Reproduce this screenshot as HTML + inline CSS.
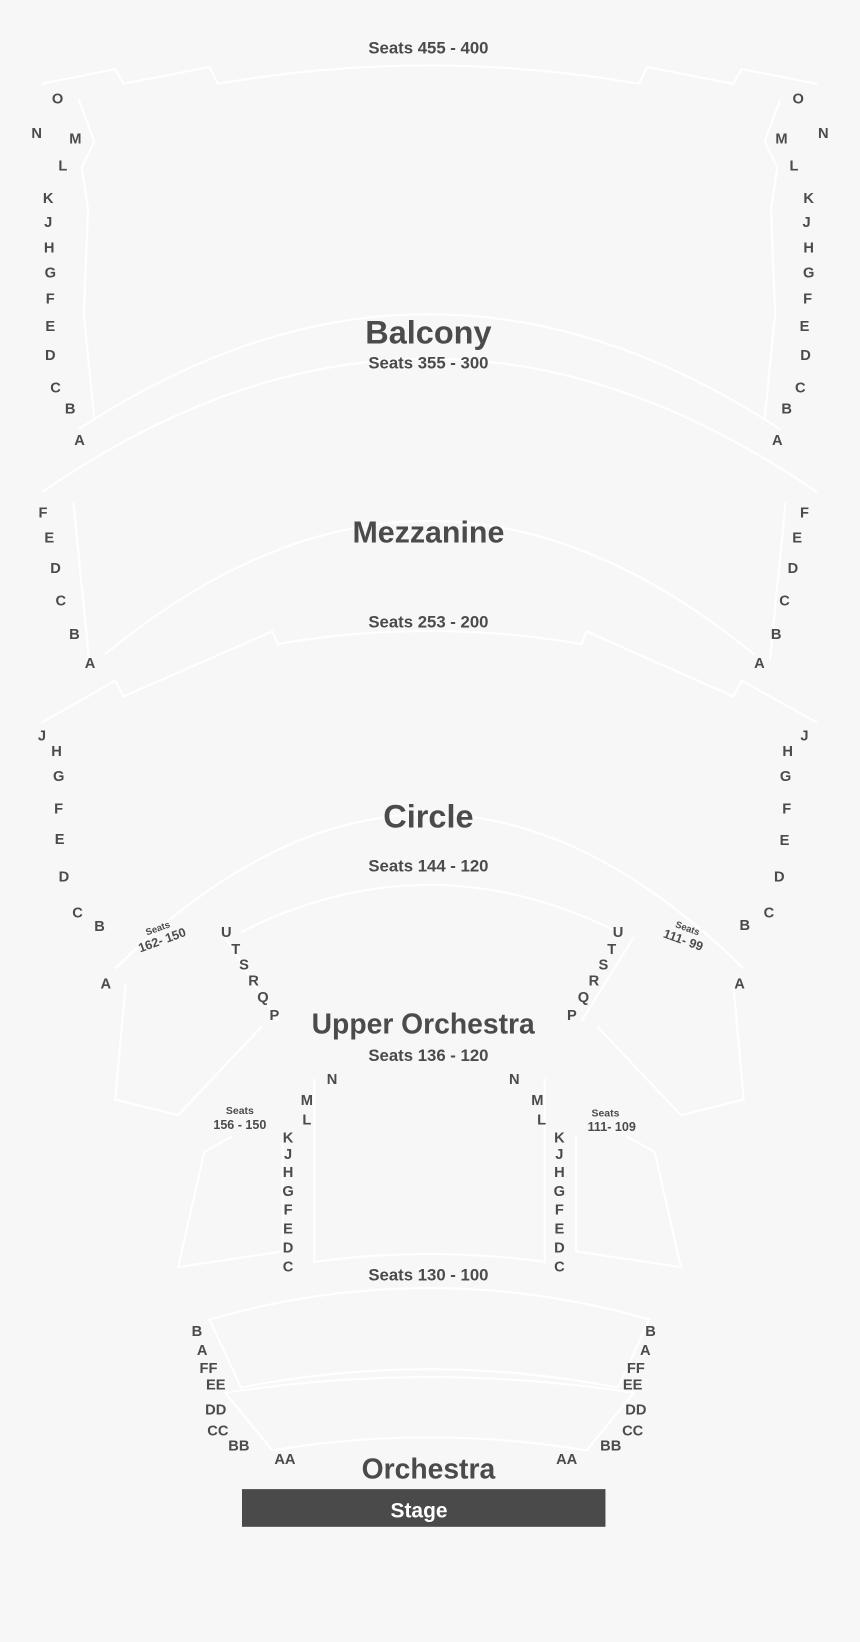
<!DOCTYPE html>
<html><head><meta charset="utf-8"><style>
html,body{margin:0;padding:0;background:#f7f7f7;}
svg{display:block;}
text{font-family:"Liberation Sans",Arial,sans-serif;font-weight:bold;fill:#4b4b4b;text-anchor:middle;}
.r{font-size:14px;}
.s{font-size:16px;}
.t{font-size:10px;}
</style></head><body>
<svg width="860" height="1642" viewBox="0 0 821 1568" preserveAspectRatio="none">
<rect width="821" height="1568" fill="#f7f7f7"/>
<g fill="none" stroke="#ffffff" stroke-width="2">
<!-- balcony -->
<path d="M40,80 L110,66 L118,80 L200,64 L208,80 Q409,45 610,80 L618,64 L700,80 L708,66 L780,80"/>
<path d="M75,410 Q409,190 745,410"/>
<path d="M40,470 Q409,215 780,470"/>
<path d="M75,95 L90,135 L78,160 L84,200 L80,300 L90,400"/>
<path d="M745,95 L730,135 L742,160 L736,200 L740,300 L730,400"/>
<!-- mezzanine -->
<path d="M100,625 Q409,370 720,625"/>
<path d="M40,690 L110,650 L118,665 L260,603 L265,615 Q409,590 555,615 L560,603 L700,665 L708,650 L780,690"/>
<path d="M70,480 L85,630"/><path d="M750,480 L735,630"/>
<!-- circle -->
<path d="M110,925 Q409,630 710,925"/>
<path d="M230,890 Q409,800 590,890"/>
<path d="M120,940 L110,1050 L170,1065 L250,980"/>
<path d="M700,940 L710,1050 L650,1065 L570,980"/>
<path d="M215,895 L265,975"/><path d="M605,895 L555,975"/>
<!-- upper orchestra -->
<path d="M300,1030 L300,1205 Q409,1190 520,1205 L520,1030"/>
<path d="M222,1085 L195,1100 L170,1210 L270,1195 L270,1085"/>
<path d="M598,1085 L625,1100 L650,1210 L550,1195 L550,1085"/>
<!-- orchestra -->
<path d="M200,1260 Q409,1200 620,1260 L590,1325 Q409,1290 230,1325 Z"/>
<path d="M215,1330 Q409,1300 605,1330 L560,1385 Q409,1360 260,1385 Z"/>
</g>
<text x="409" y="51" class="s">Seats 455 - 400</text>
<g class="r">
<text x="55" y="99" class="r">O</text><text x="762" y="99" class="r">O</text>
<text x="35" y="132" class="r">N</text><text x="786" y="132" class="r">N</text>
<text x="72" y="137" class="r">M</text><text x="746" y="137" class="r">M</text>
<text x="60" y="163" class="r">L</text><text x="758" y="163" class="r">L</text>
<text x="46" y="194" class="r">K</text><text x="772" y="194" class="r">K</text>
<text x="46" y="217" class="r">J</text><text x="770" y="217" class="r">J</text>
<text x="47" y="241" class="r">H</text><text x="772" y="241" class="r">H</text>
<text x="48" y="265" class="r">G</text><text x="772" y="265" class="r">G</text>
<text x="48" y="290" class="r">F</text><text x="771" y="290" class="r">F</text>
<text x="48" y="316" class="r">E</text><text x="768" y="316" class="r">E</text>
<text x="48" y="344" class="r">D</text><text x="769" y="344" class="r">D</text>
<text x="53" y="375" class="r">C</text><text x="764" y="375" class="r">C</text>
<text x="67" y="395" class="r">B</text><text x="751" y="395" class="r">B</text>
<text x="76" y="425" class="r">A</text><text x="742" y="425" class="r">A</text>
</g>
<text x="409" y="328" style="font-size:31px">Balcony</text>
<text x="409" y="352" class="s">Seats 355 - 300</text>
<text x="409" y="518" style="font-size:29px">Mezzanine</text>
<text x="409" y="599" class="s">Seats 253 - 200</text>
<text x="41" y="494" class="r">F</text><text x="768" y="494" class="r">F</text>
<text x="47" y="518" class="r">E</text><text x="761" y="518" class="r">E</text>
<text x="53" y="547" class="r">D</text><text x="757" y="547" class="r">D</text>
<text x="58" y="578" class="r">C</text><text x="749" y="578" class="r">C</text>
<text x="71" y="610" class="r">B</text><text x="741" y="610" class="r">B</text>
<text x="86" y="638" class="r">A</text><text x="725" y="638" class="r">A</text>
<text x="409" y="790" style="font-size:31px">Circle</text>
<text x="409" y="832" class="s">Seats 144 - 120</text>
<text x="40" y="707" class="r">J</text><text x="768" y="707" class="r">J</text>
<text x="54" y="722" class="r">H</text><text x="752" y="722" class="r">H</text>
<text x="56" y="746" class="r">G</text><text x="750" y="746" class="r">G</text>
<text x="56" y="777" class="r">F</text><text x="751" y="777" class="r">F</text>
<text x="57" y="806" class="r">E</text><text x="749" y="807" class="r">E</text>
<text x="61" y="842" class="r">D</text><text x="744" y="842" class="r">D</text>
<text x="74" y="876" class="r">C</text><text x="734" y="876" class="r">C</text>
<text x="95" y="889" class="r">B</text><text x="711" y="888" class="r">B</text>
<text x="101" y="944" class="r">A</text><text x="706" y="944" class="r">A</text>
<g transform="translate(153,893) rotate(-20)"><text x="0" y="-4" style="font-size:9px">Seats</text><text x="0" y="9" style="font-size:12px">162- 150</text></g>
<g transform="translate(654,893) rotate(20)"><text x="0" y="-4" style="font-size:9px">Seats</text><text x="0" y="9" style="font-size:12px">111- 99</text></g>
<text x="216" y="895" class="r">U</text><text x="590" y="895" class="r">U</text>
<text x="225" y="911" class="r">T</text><text x="584" y="911" class="r">T</text>
<text x="233" y="926" class="r">S</text><text x="576" y="926" class="r">S</text>
<text x="242" y="941" class="r">R</text><text x="567" y="941" class="r">R</text>
<text x="251" y="957" class="r">Q</text><text x="557" y="957" class="r">Q</text>
<text x="262" y="974" class="r">P</text><text x="546" y="974" class="r">P</text>
<text x="404" y="987" style="font-size:27px">Upper Orchestra</text>
<text x="409" y="1013" class="s">Seats 136 - 120</text>
<text x="317" y="1035" class="r">N</text><text x="491" y="1035" class="r">N</text>
<text x="293" y="1055" class="r">M</text><text x="513" y="1055" class="r">M</text>
<text x="293" y="1074" class="r">L</text><text x="517" y="1074" class="r">L</text>
<text x="229" y="1064" class="t">Seats</text><text x="229" y="1078" style="font-size:12px">156 - 150</text>
<text x="578" y="1066" class="t">Seats</text><text x="584" y="1080" style="font-size:12px">111- 109</text>
<g>
<text x="275" y="1091" class="r">K</text><text x="534" y="1091" class="r">K</text>
<text x="275" y="1107" class="r">J</text><text x="534" y="1107" class="r">J</text>
<text x="275" y="1124" class="r">H</text><text x="534" y="1124" class="r">H</text>
<text x="275" y="1142" class="r">G</text><text x="534" y="1142" class="r">G</text>
<text x="275" y="1160" class="r">F</text><text x="534" y="1160" class="r">F</text>
<text x="275" y="1178" class="r">E</text><text x="534" y="1178" class="r">E</text>
<text x="275" y="1196" class="r">D</text><text x="534" y="1196" class="r">D</text>
<text x="275" y="1214" class="r">C</text><text x="534" y="1214" class="r">C</text>
</g>
<text x="409" y="1223" class="s">Seats 130 - 100</text>
<text x="188" y="1276" class="r">B</text><text x="621" y="1276" class="r">B</text>
<text x="193" y="1294" class="r">A</text><text x="616" y="1294" class="r">A</text>
<text x="199" y="1311" class="r">FF</text><text x="607" y="1311" class="r">FF</text>
<text x="206" y="1327" class="r">EE</text><text x="604" y="1327" class="r">EE</text>
<text x="206" y="1351" class="r">DD</text><text x="607" y="1351" class="r">DD</text>
<text x="208" y="1371" class="r">CC</text><text x="604" y="1371" class="r">CC</text>
<text x="228" y="1385" class="r">BB</text><text x="583" y="1385" class="r">BB</text>
<text x="272" y="1398" class="r">AA</text><text x="541" y="1398" class="r">AA</text>
<text x="409" y="1412" style="font-size:27px">Orchestra</text>
<rect x="231" y="1422" width="347" height="36" fill="#4a4a4a"/>
<text x="400" y="1449" style="font-size:20px;fill:#ffffff">Stage</text>
</svg>
</body></html>
